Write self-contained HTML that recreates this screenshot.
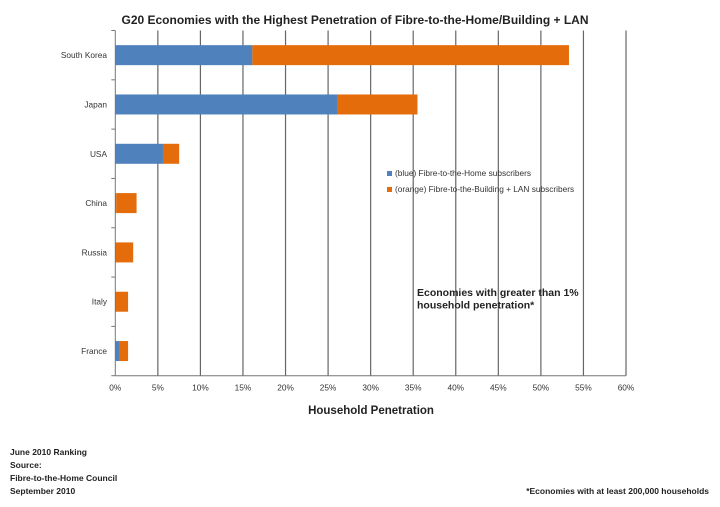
<!DOCTYPE html>
<html><head><meta charset="utf-8"><style>
body{margin:0;background:#fff;width:720px;height:507px;overflow:hidden;font-family:"Liberation Sans",sans-serif}
svg{display:block}
</style></head><body>
<svg width="720" height="507">
<text x="355" y="24" text-anchor="middle" font-size="12" font-weight="bold" fill="#222">G20 Economies with the Highest Penetration of Fibre-to-the-Home/Building + LAN</text>
<g id="grid"></g>
<g id="bars"></g>
<g id="axes"></g>
<g font-size="8.3" fill="#333">
<rect x="387" y="171" width="5" height="5" fill="#4f81bd"/>
<text x="395" y="176">(blue) Fibre-to-the-Home subscribers</text>
<rect x="387" y="187" width="5" height="5" fill="#e46c0a"/>
<text x="395" y="192">(orange) Fibre-to-the-Building + LAN subscribers</text>
</g>
<text x="417" y="296" font-size="10.5" font-weight="bold" fill="#222"><tspan x="417">Economies with greater than 1%</tspan><tspan x="417" dy="12.5">household penetration*</tspan></text>
<text x="371" y="414" text-anchor="middle" font-size="11.5" font-weight="bold" fill="#222">Household Penetration</text>
<g font-size="8.5" font-weight="bold" fill="#222">
<text x="10" y="455">June 2010 Ranking</text><text x="10" y="468">Source:</text><text x="10" y="481">Fibre-to-the-Home Council</text><text x="10" y="494">September 2010</text>
</g>
<text x="709" y="494" text-anchor="end" font-size="8.5" font-weight="bold" fill="#222">*Economies with at least 200,000 households</text>
</svg>
<script>
const categories=["South Korea","Japan","USA","China","Russia","Italy","France"];
const ftthValues=[16.1,26.1,5.6,0.1,0,0,0.5];
const fttbValues=[37.2,9.4,1.9,2.4,2.1,1.5,1.0];
const tickValues=[0,5,10,15,20,25,30,35,40,45,50,55,60];
const NS="http://www.w3.org/2000/svg";
const X0=115.3,X1=626,TOP=30.5,BOT=375.7,MAX=60;
const band=(BOT-TOP)/categories.length;
const x=v=>X0+(v/MAX)*(X1-X0);
function mk(t,a,p){const e=document.createElementNS(NS,t);for(const k in a)e.setAttribute(k,a[k]);p.appendChild(e);return e;}
const grid=document.getElementById('grid'),bars=document.getElementById('bars'),axes=document.getElementById('axes');
tickValues.forEach(t=>{
  if(t>0){const l=mk('line',{x1:x(t),x2:x(t),y1:TOP,y2:BOT,stroke:'#666','stroke-width':1.2},grid);
  
  }
  const tx=mk('text',{x:x(t),y:BOT+15,'text-anchor':'middle','font-size':8.3,fill:'#333'},axes);
  tx.textContent=t+'%';
  
  
});
mk('line',{x1:X0,x2:X0,y1:TOP,y2:BOT,stroke:'#777'},axes);
mk('line',{x1:X0,x2:X1,y1:BOT,y2:BOT,stroke:'#777'},axes);
for(let i=0;i<=categories.length;i++)mk('line',{x1:X0-4,x2:X0,y1:TOP+i*band,y2:TOP+i*band,stroke:'#777'},axes);
categories.forEach((c,i)=>{
  const cy=TOP+band*i+band/2;
  const b=mk('rect',{x:x(0),y:cy-10,width:x(ftthValues[i])-x(0),height:20,fill:'#4f81bd'},bars);
  
  
  const o=mk('rect',{x:x(ftthValues[i]),y:cy-10,width:x(ftthValues[i]+fttbValues[i])-x(ftthValues[i]),height:20,fill:'#e46c0a'},bars);
  
  
  const t=mk('text',{x:107,y:cy+3,'text-anchor':'end','font-size':8.3,fill:'#333'},axes);
  t.textContent=c;
  
  
});
</script>
</body></html>
